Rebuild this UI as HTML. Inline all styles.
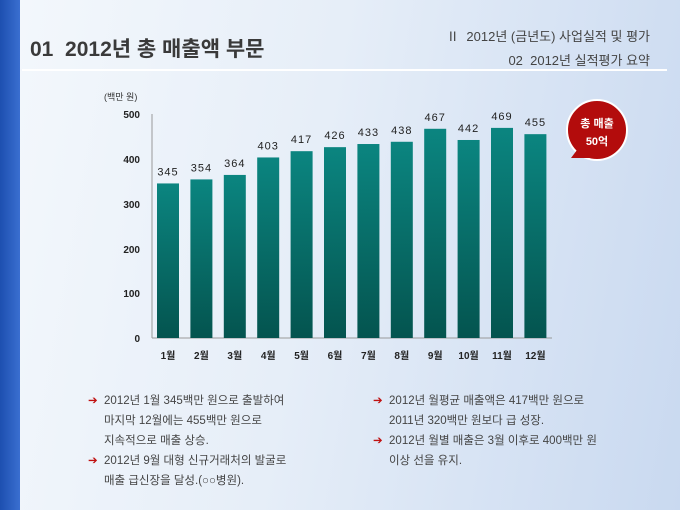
<!DOCTYPE html>
<html><head><meta charset="utf-8"><style>
body{margin:0;width:680px;height:510px;overflow:hidden;font-family:"Liberation Sans","Noto Sans CJK KR",sans-serif;}
#bg{position:absolute;left:0;top:0;width:680px;height:510px;background:linear-gradient(100deg,#f4f8fc 0%,#e6eef8 45%,#c9d9f0 100%);}
#lb{position:absolute;left:0;top:0;width:20px;height:510px;background:linear-gradient(90deg,#1d4fb0,#3a6fd0);}
.t{position:absolute;white-space:nowrap;color:#333;}
</style></head><body>
<div id="bg"></div><div id="lb"></div>
<div class="t" style="left:30px;top:33px;font-size:21px;font-weight:bold;color:#3a3a3a;">01&nbsp;&nbsp;2012년 총 매출액 부문</div>
<div class="t" style="right:30px;top:26px;font-size:13px;color:#444;">Ⅱ&nbsp;&nbsp;2012년 (금년도) 사업실적 및 평가</div>
<div class="t" style="right:30px;top:50px;font-size:13px;color:#444;">02&nbsp;&nbsp;2012년 실적평가 요약</div>
<div style="position:absolute;left:22px;top:69px;width:645px;height:2px;background:#fff;"></div>
<svg style="position:absolute;left:0;top:0" width="680" height="510">
<defs><linearGradient id="g" x1="0" y1="0" x2="0" y2="1"><stop offset="0" stop-color="#0b8580"/><stop offset="1" stop-color="#04544f"/></linearGradient></defs>
<text x="104" y="100" font-size="9" fill="#333">(백만 원)</text>
<line x1="152" y1="114" x2="152" y2="338" stroke="#999"/>
<line x1="152" y1="338" x2="552" y2="338" stroke="#999"/>
<g font-size="10" fill="#222" text-anchor="end" font-weight="bold">
<text x="140" y="118">500</text><text x="140" y="163">400</text><text x="140" y="208">300</text><text x="140" y="253">200</text><text x="140" y="297">100</text><text x="140" y="342">0</text></g>
<g id="bars"></g>
<circle cx="597" cy="130" r="30" fill="#b30c0c" stroke="#fff" stroke-width="2"/>
<path d="M577 150 L571 158 L590 158 Z" fill="#b30c0c"/>
<text x="597" y="127" font-size="11" fill="#fff" text-anchor="middle" font-weight="bold">총 매출</text>
<text x="597" y="145" font-size="11" fill="#fff" text-anchor="middle" font-weight="bold">50억</text>
</svg>
<script>
var v=[345,354,364,403,417,426,433,438,467,442,469,455],s='';
for(var i=0;i<12;i++){var cx=168+i*33.4,h=v[i]*0.448,y=338-h;
s+='<rect x="'+(cx-11)+'" y="'+y+'" width="22" height="'+h+'" fill="url(#g)"/>';
s+='<text x="'+cx+'" y="'+(y-8)+'" font-size="11" fill="#222" text-anchor="middle" letter-spacing="1">'+v[i]+'</text>';
s+='<text x="'+cx+'" y="359" font-size="10" fill="#222" text-anchor="middle" font-weight="bold">'+(i+1)+'월</text>';}
document.getElementById('bars').innerHTML=s;
</script>
<div class="t" style="left:88px;top:391px;font-size:11.5px;line-height:20px;color:#444;">
<span style="color:#c01010">➔</span>&nbsp; 2012년 1월 345백만 원으로 출발하여<br>&nbsp;&nbsp;&nbsp;&nbsp;&nbsp;마지막 12월에는 455백만 원으로<br>&nbsp;&nbsp;&nbsp;&nbsp;&nbsp;지속적으로 매출 상승.<br><span style="color:#c01010">➔</span>&nbsp; 2012년 9월 대형 신규거래처의 발굴로<br>&nbsp;&nbsp;&nbsp;&nbsp;&nbsp;매출 급신장을 달성.(○○병원).</div>
<div class="t" style="left:373px;top:391px;font-size:11.5px;line-height:20px;color:#444;">
<span style="color:#c01010">➔</span>&nbsp; 2012년 월평균 매출액은 417백만 원으로<br>&nbsp;&nbsp;&nbsp;&nbsp;&nbsp;2011년 320백만 원보다 급 성장.<br><span style="color:#c01010">➔</span>&nbsp; 2012년 월별 매출은 3월 이후로 400백만 원<br>&nbsp;&nbsp;&nbsp;&nbsp;&nbsp;이상 선을 유지.</div>
</body></html>
